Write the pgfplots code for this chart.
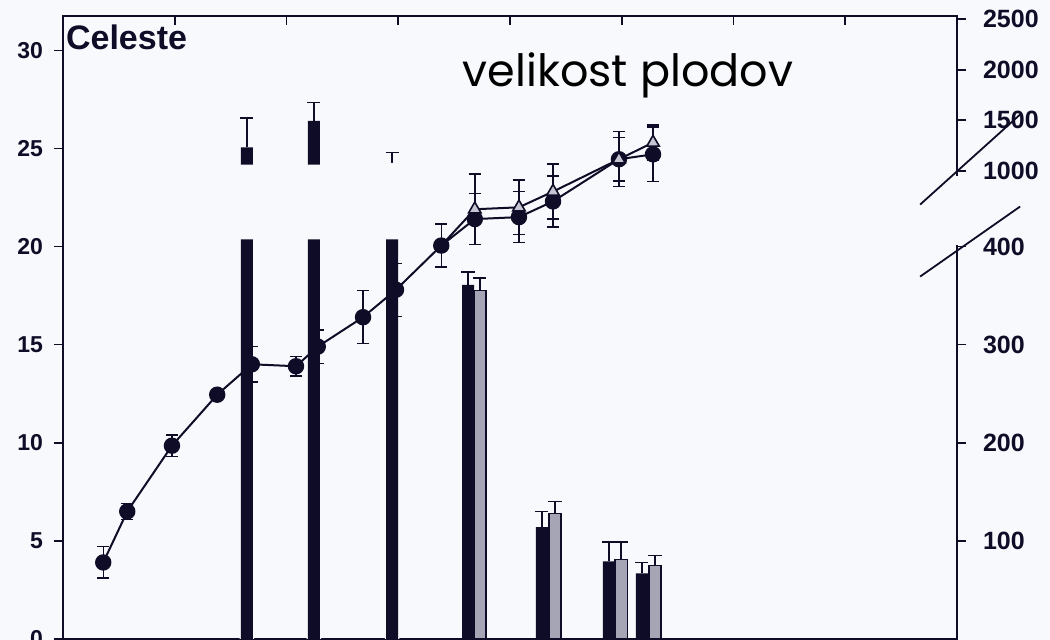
\documentclass[border=0pt]{standalone}
\usepackage{fontspec}
\setmainfont{Liberation Sans}
\newfontfamily\comicfont{Poppins}
\usepackage{graphicx}
\usepackage{pgfplots}
\usepackage{pgfplotstable}
\pgfplotsset{compat=1.18}
\definecolor{ink}{RGB}{14,12,38}
\definecolor{hatch}{RGB}{165,165,182}
\definecolor{tri}{RGB}{195,198,210}
\definecolor{bg}{RGB}{247,249,252}

% fruit size (left axis), circles
\pgfplotstableread{
x y e
7.2 3.9 0.8
11.5 6.5 0.4
19.5 9.85 0.55
27.6 12.45 0.2
33.8 14.0 0.9
41.7 13.9 0.5
45.6 14.9 0.85
53.7 16.4 1.35
59.6 17.8 1.35
67.7 20.05 1.1
73.7 21.4 1.3
81.6 21.5 1.3
87.7 22.3 1.3
99.5 24.45 1.4
105.6 24.7 1.4
}\circles
% triangles
\pgfplotstableread{
x y e
67.7 20.05 0
73.7 21.9 1.8
81.6 22.0 1.4
87.7 22.8 1.4
99.5 24.45 1.1
105.6 25.3 0.9
}\triangles
% black bars (right axis, drawn in left-axis units)
\pgfplotstableread{
x y e
32.9 25.05 1.5
44.9 26.4 0.95
58.9 24.2 0.6
72.5 18.05 0.65
85.7 5.7 0.8
97.7 3.95 1.0
103.6 3.35 0.55
}\blackbars
\pgfplotstableread{
x y
32.9 24.18
44.9 24.18
58.9 24.26
}\gapbars
\pgfplotstableread{
x y
32.9 20.36
44.9 20.36
58.9 20.36
}\lowbars
\pgfplotstableread{
x y e
74.6 17.75 0.65
88.05 6.4 0.6
99.9 4.05 0.9
105.95 3.75 0.5
}\graybars

\begin{document}
\begin{tikzpicture}
\fill[bg] (0pt,0pt) rectangle (525pt,320pt);
\pgfplotsset{
  common/.style={
    at={(31.5pt,0.5pt)}, anchor=south west,
    scale only axis, width=447pt, height=311.5pt,
    xmin=0, xmax=160, ymin=0, ymax=31.75,
    axis line style={ink, line width=0.8pt},
    major tick style={ink, line width=0.8pt},
    major tick length=4.5pt,
    /pgf/number format/assume math mode=true,
    clip=false,
  },
  errs/.style={error bars/.cd, y explicit, y dir=both,
    error mark options={rotate=90, mark size=3.1pt, line width=0.7pt, ink},
    error bar style={line width=0.7pt, ink}},
  berrs/.style={error bars/.cd, y explicit, y dir=plus,
    error mark options={rotate=90, mark size=3.3pt, line width=0.8pt, ink},
    error bar style={line width=0.8pt, ink}},
}
\begin{axis}[common,
  xtick=\empty,
  ytick={0,5,...,30},
  ytick pos=left, tick align=outside,
  yticklabel style={font=\fontsize{11.5}{13}\selectfont\bfseries, text=ink, xshift=-2pt},
]
% bars
\addplot[ybar, bar width=2.15, bar shift=0pt, fill=ink, draw=none, berrs]
  table[x=x, y=y, y error=e] {\blackbars};
\addplot[ybar, bar width=2.6, bar shift=0pt, fill=bg, draw=none]
  table[x=x, y=y] {\gapbars};
\addplot[ybar, bar width=2.15, bar shift=0pt, fill=ink, draw=none]
  table[x=x, y=y] {\lowbars};
\addplot[ybar, bar width=2.15, bar shift=0pt, fill=hatch, draw=ink, line width=0.7pt, berrs]
  table[x=x, y=y, y error=e] {\graybars};
% fruit size lines
\addplot[ink, line width=1pt, mark=*, mark size=3.6pt, mark options={fill=ink, draw=ink}, errs]
  table[x=x, y=y, y error=e] {\circles};
\addplot[ink, line width=1pt, mark=triangle*, mark size=3.6pt, mark indices={2,3,4,5,6},
  mark options={fill=tri, draw=ink, line width=0.8pt}, errs]
  table[x=x, y=y, y error=e] {\triangles};
% title inside
\node[anchor=base west, inner sep=0pt, font=\fontsize{17}{19}\selectfont\bfseries, text=ink]
  at (rel axis cs:0.003,0.946) {Celeste};
\end{axis}

\begin{axis}[common,
  axis x line=none, axis y line*=right,
  ytick={5,10,15,20,23.85,26.45,29.0,31.6},
  yticklabels={100,200,300,400,1000,1500,2000,2500},
  tick align=outside,
  yticklabel style={font=\fontsize{12.5}{14}\selectfont\bfseries, text=ink, xshift=5pt},
]
\addplot[draw=none] coordinates {(0,0)};
\draw[bg, line width=3pt] (axis cs:160,20.1) -- (axis cs:160,23.6);
\draw[ink, line width=0.9pt] (axis cs:153.4,18.47) -- (axis cs:171.3,22.04);
\draw[ink, line width=0.9pt] (axis cs:153.4,22.14) -- (axis cs:171.3,26.73);
\end{axis}

\begin{axis}[common,
  axis y line=none, axis x line*=top,
  xtick={20,40,...,140}, xticklabels={},
  tick align=inside,
]
\addplot[draw=none] coordinates {(0,0)};
\end{axis}

\node[anchor=base, inner sep=0pt, text=black] at (314pt,276.5pt)
  {\resizebox{165pt}{!}{\comicfont velikost plodov}};

\pgfresetboundingbox
\path (0pt,0pt) rectangle (525pt,320pt);
\end{tikzpicture}
\end{document}
